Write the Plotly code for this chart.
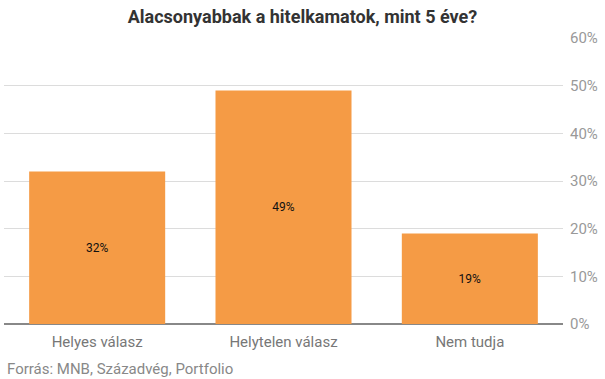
import plotly.graph_objects as go

categories = ["Helyes válasz", "Helytelen válasz", "Nem tudja"]
values = [32, 49, 19]
tick_vals = [0, 10, 20, 30, 40, 50, 60]
tick_text = ["0%", "10%", "20%", "30%", "40%", "50%", "60%"]

fig = go.Figure(go.Bar(
    x=categories, y=values,
    marker=dict(color="#F59B45", line=dict(width=0)),
    text=[f"{v}%" for v in values],
    textposition="inside", insidetextanchor="middle",
    textfont=dict(family="Roboto", size=12, color="#111"),
    hoverinfo="skip",
))

fig.update_layout(
    width=605, height=379,
    margin=dict(l=4, r=42, t=38, b=55),
    paper_bgcolor="white", plot_bgcolor="white",
    bargap=0.27,
    showlegend=False,
    font=dict(family="Roboto", color="#888"),
    title=dict(text="<b>Alacsonyabbak a hitelkamatok, mint 5 éve?</b>",
               x=0.5, xanchor="center", y=0.955, yanchor="middle",
               font=dict(family="Roboto", size=18, color="#333")),
    xaxis=dict(showgrid=False, tickfont=dict(size=15, color="#777"),
               ticks="", showline=False, ticklabelstandoff=7),
    yaxis=dict(side="right", range=[0, 60], tickvals=tick_vals, ticktext=tick_text,
               showgrid=True, gridcolor="#dcdcdc", gridwidth=1,
               zeroline=True, zerolinecolor="#888", zerolinewidth=1.5,
               tickfont=dict(size=15, color="#999"), ticklabelstandoff=6),
    annotations=[dict(text="Forrás: MNB, Századvég, Portfolio", xref="paper", yref="paper",
                      x=0, xanchor="left", y=-0.16, yanchor="middle",
                      xshift=1, yshift=1, showarrow=False,
                      font=dict(family="Roboto", size=15, color="#888"))],
)

fig.write_html("out.html", config={"displayModeBar": False},
               post_script="document.body.style.margin='0';document.body.style.overflow='hidden';")
